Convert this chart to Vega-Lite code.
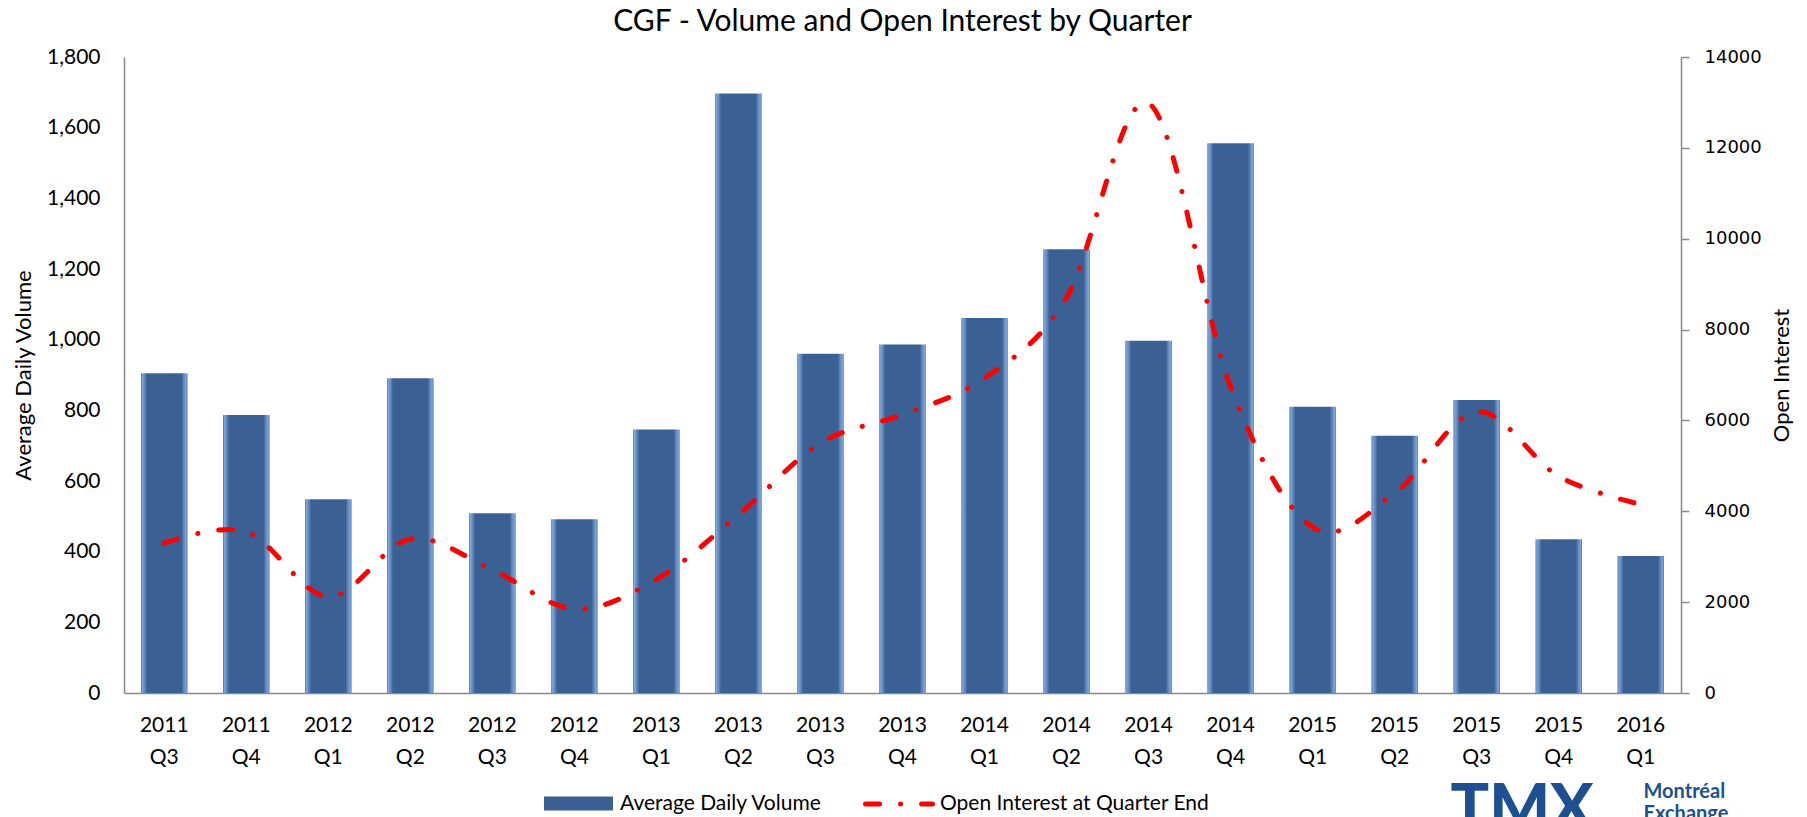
{
  "$schema": "https://vega.github.io/schema/vega-lite/v6.json",
  "width": 1557,
  "height": 636,
  "autosize": {"type": "none"},
  "padding": {"left": 124, "top": 57, "right": 126, "bottom": 124},
  "background": "#ffffff",
  "title": {
    "text": "CGF - Volume and Open Interest by Quarter",
    "font": "Lato",
    "fontSize": 30,
    "fontWeight": "normal",
    "color": "#000000",
    "anchor": "middle",
    "frame": "group",
    "offset": -15,
    "baseline": "alphabetic"
  },
  "data": {
    "values": [
      {"quarter": "2011 Q3", "volume": 905, "oi": 3300},
      {"quarter": "2011 Q4", "volume": 787, "oi": 3550},
      {"quarter": "2012 Q1", "volume": 548, "oi": 2120},
      {"quarter": "2012 Q2", "volume": 891, "oi": 3390},
      {"quarter": "2012 Q3", "volume": 509, "oi": 2710},
      {"quarter": "2012 Q4", "volume": 492, "oi": 1850},
      {"quarter": "2013 Q1", "volume": 746, "oi": 2500},
      {"quarter": "2013 Q2", "volume": 1697, "oi": 3920},
      {"quarter": "2013 Q3", "volume": 960, "oi": 5500},
      {"quarter": "2013 Q4", "volume": 986, "oi": 6130},
      {"quarter": "2014 Q1", "volume": 1061, "oi": 6930},
      {"quarter": "2014 Q2", "volume": 1256, "oi": 8700},
      {"quarter": "2014 Q3", "volume": 997, "oi": 12980},
      {"quarter": "2014 Q4", "volume": 1556, "oi": 6740},
      {"quarter": "2015 Q1", "volume": 810, "oi": 3650},
      {"quarter": "2015 Q2", "volume": 728, "oi": 4400},
      {"quarter": "2015 Q3", "volume": 829, "oi": 6190},
      {"quarter": "2015 Q4", "volume": 435, "oi": 4770},
      {"quarter": "2016 Q1", "volume": 388, "oi": 4150}
    ]
  },
  "layer": [
    {
      "mark": {
        "type": "bar",
        "strokeWidth": 0,
        "fill": {
          "gradient": "linear",
          "x1": 0, "x2": 1, "y1": 0, "y2": 0,
          "stops": [
            {"offset": 0, "color": "#4C73A8"},
            {"offset": 0.03, "color": "#7DA5D8"},
            {"offset": 0.08, "color": "#5F87BD"},
            {"offset": 0.13, "color": "#3B6194"},
            {"offset": 0.87, "color": "#3B6194"},
            {"offset": 0.92, "color": "#5F87BD"},
            {"offset": 0.97, "color": "#7DA5D8"},
            {"offset": 1, "color": "#4C73A8"}
          ]
        }
      },
      "encoding": {
        "x": {
          "field": "quarter",
          "type": "nominal",
          "sort": null,
          "scale": {"paddingInner": 0.433, "paddingOuter": 0.207},
          "axis": {
            "orient": "bottom",
            "labelExpr": "split(datum.value, ' ')",
            "labelAngle": 0,
            "labelFont": "Lato",
            "labelFontSize": 21,
            "labelColor": "#000000",
            "labelLineHeight": 32,
            "labelPadding": 21,
            "ticks": false,
            "domainColor": "#898989",
            "domainWidth": 1.5,
            "title": "TMX",
            "titleFont": "Lato",
            "titleFontWeight": 900,
            "titleFontSize": 64,
            "titleColor": "#1D4F91",
            "titleX": 1326,
            "titleY": 136,
            "titleAlign": "left",
            "titleAnchor": "start",
            "titleBaseline": "alphabetic",
            "titleAngle": 0
          }
        },
        "y": {
          "field": "volume",
          "type": "quantitative",
          "scale": {"domain": [0, 1800], "nice": false},
          "axis": {
            "title": "Average Daily Volume",
            "titleFont": "Lato",
            "titleFontSize": 22,
            "titleFontWeight": "normal",
            "titleColor": "#000000",
            "titlePadding": 11,
            "values": [0, 200, 400, 600, 800, 1000, 1200, 1400, 1600, 1800],
            "format": ",d",
            "labelFont": "Lato",
            "labelFontSize": 21,
            "labelColor": "#000000",
            "labelPadding": 24,
            "ticks": false,
            "grid": false,
            "domainColor": "#898989",
            "domainWidth": 1.5
          }
        },
        "stroke": {
          "datum": "Average Daily Volume",
          "scale": {"domain": ["Average Daily Volume"], "range": ["#3A5F92"]},
          "legend": {
            "title": null,
            "orient": "none",
            "legendX": 413,
            "legendY": 705,
            "direction": "horizontal",
            "symbolType": "stroke",
            "symbolSize": 4761,
            "symbolStrokeWidth": 14,
            "labelFont": "Lato",
            "labelFontSize": 21,
            "labelColor": "#000000",
            "labelOffset": 0,
            "labelLimit": 400,
            "padding": 0,
            "encode": {
              "symbols": {
                "update": {
                  "strokeWidth": {"value": 14},
                  "strokeCap": {"value": "butt"},
                  "stroke": {"value": "#3A5F92"},
                  "opacity": {"value": 1},
                  "strokeOpacity": {"value": 1}
                }
              }
            }
          }
        }
      }
    },
    {
      "mark": {
        "type": "line",
        "interpolate": "cardinal",
        "color": "#FF0000",
        "strokeWidth": 5,
        "strokeCap": "round"
      },
      "encoding": {
        "x": {
          "field": "quarter",
          "type": "nominal",
          "sort": null,
          "axis": {
            "orient": "bottom",
            "labels": false,
            "ticks": false,
            "domain": false,
            "title": ["Montréal", "Exchange"],
            "titleFont": "Lato",
            "titleFontWeight": "bold",
            "titleFontSize": 20,
            "titleColor": "#1D4F91",
            "titleLineHeight": 22,
            "titleX": 1519,
            "titleY": 104,
            "titleAlign": "left",
            "titleAnchor": "start",
            "titleBaseline": "alphabetic",
            "titleAngle": 0
          }
        },
        "y": {
          "field": "oi",
          "type": "quantitative",
          "scale": {"domain": [0, 14000], "nice": false},
          "axis": {
            "orient": "right",
            "title": "Open Interest",
            "titleFont": "Lato",
            "titleFontSize": 22,
            "titleFontWeight": "normal",
            "titleColor": "#000000",
            "titleAngle": 270,
            "titleBaseline": "top",
            "titlePadding": 10,
            "values": [0, 2000, 4000, 6000, 8000, 10000, 12000, 14000],
            "format": "d",
            "labelFont": "DejaVu Sans",
            "labelFontSize": 18,
            "labelColor": "#000000",
            "labelPadding": 15,
            "ticks": true,
            "tickSize": 8,
            "tickColor": "#898989",
            "tickWidth": 1.5,
            "grid": false,
            "domainColor": "#898989",
            "domainWidth": 1.5
          }
        },
        "strokeDash": {
          "datum": "Open Interest at Quarter End",
          "scale": {"domain": ["Open Interest at Quarter End"], "range": [[14, 21, 0.1, 21]]},
          "legend": {
            "title": null,
            "orient": "none",
            "legendX": 739,
            "legendY": 711,
            "direction": "horizontal",
            "symbolType": "stroke",
            "symbolSize": 4489,
            "symbolStrokeWidth": 5,
            "symbolStrokeColor": "#FF0000",
            "labelFont": "Lato",
            "labelFontSize": 21,
            "labelColor": "#000000",
            "labelOffset": 5,
            "labelLimit": 400,
            "padding": 0,
            "encode": {
              "symbols": {
                "update": {
                  "strokeWidth": {"value": 5},
                  "strokeCap": {"value": "round"},
                  "stroke": {"value": "#FF0000"},
                  "opacity": {"value": 1},
                  "strokeOpacity": {"value": 1}
                }
              }
            }
          }
        }
      }
    }
  ],
  "resolve": {"scale": {"y": "independent"}, "axis": {"x": "independent"}},
  "config": {
    "view": {"stroke": null},
    "font": "Lato"
  }
}
